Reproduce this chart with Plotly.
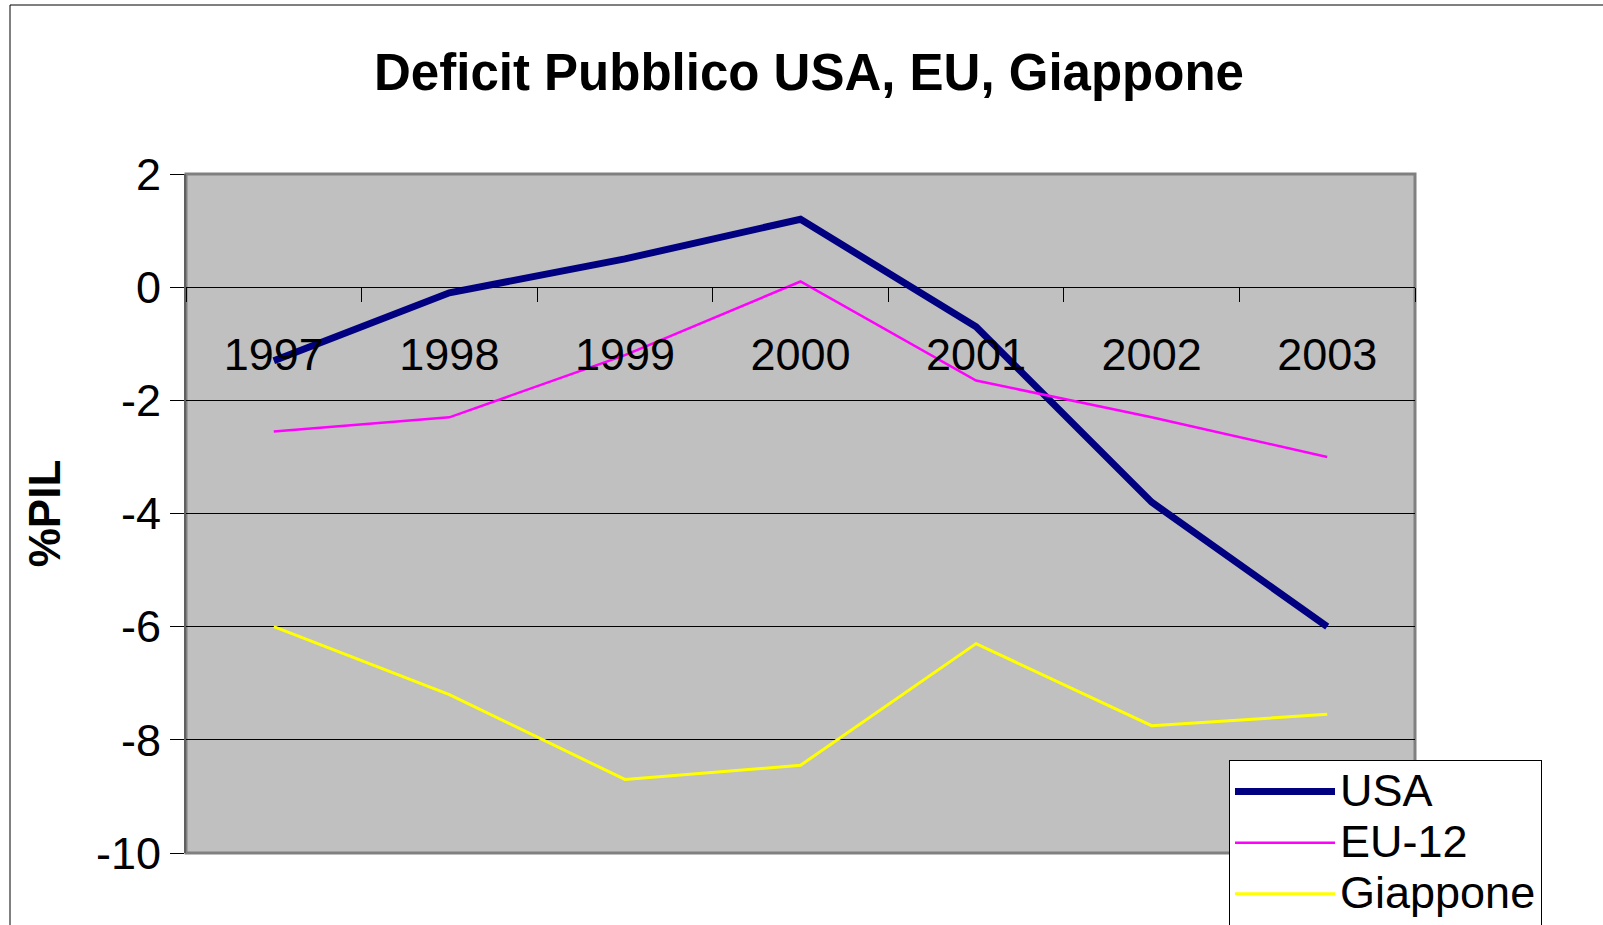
import plotly.graph_objects as go

years = ["1997", "1998", "1999", "2000", "2001", "2002", "2003"]
usa = [-1.3, -0.1, 0.5, 1.2, -0.7, -3.8, -6.0]
eu12 = [-2.55, -2.3, -1.2, 0.1, -1.65, -2.3, -3.0]
giappone = [-6.0, -7.2, -8.7, -8.45, -6.3, -7.75, -7.55]
y_ticks = [2, 0, -2, -4, -6, -8, -10]
y_tick_text = ["2", "0", "-2", "-4", "-6", "-8", "-10"]

FONT = "Arial, Liberation Sans, sans-serif"
BIG = '<span style="font-size:45px">{}</span>'

fig = go.Figure()
fig.add_trace(go.Scatter(x=years, y=usa, name=BIG.format("USA"), mode="lines",
                         line=dict(color="#000080", width=7)))
fig.add_trace(go.Scatter(x=years, y=eu12, name=BIG.format("EU-12"), mode="lines",
                         line=dict(color="#FF00FF", width=2.5)))
fig.add_trace(go.Scatter(x=years, y=giappone, name=BIG.format("Giappone"), mode="lines",
                         line=dict(color="#FFFF00", width=3)))

W, H = 1603, 925
# plot area in reference pixels: left 186, right 1415, top 174, bottom 853
L = 186
T = 174
R = W - 1415
B = H - 853
pw = W - L - R
ph = H - T - B

def px(x):
    return (x - L) / pw

def py(y):
    return (H - B - y) / ph

fig.update_layout(
    width=W, height=H,
    margin=dict(l=L, r=R, t=T, b=B, autoexpand=False),
    paper_bgcolor="white",
    plot_bgcolor="#C0C0C0",
    font=dict(family=FONT, color="black", size=45),
    title=dict(text="<b>Deficit Pubblico USA, EU, Giappone</b>",
               font=dict(size=51, family=FONT, color="black"),
               x=px(809), xref="paper", xanchor="center",
               y=1 - 72 / H, yanchor="middle"),
    xaxis=dict(type="category", categoryorder="array", categoryarray=years,
               range=[-0.5, 6.5], tickson="boundaries", ticks="outside",
               ticklen=14, tickcolor="black", tickwidth=1,
               showline=True, linecolor="black", linewidth=1,
               showgrid=False, zeroline=False,
               anchor="free", position=10 / 12,
               tickfont=dict(size=45), ticklabelstandoff=28),
    yaxis=dict(range=[-10, 2], tickmode="array", tickvals=y_ticks,
               ticktext=y_tick_text, ticks="outside", ticklen=14,
               tickcolor="black", tickwidth=1,
               showline=True, linecolor="#606060", linewidth=2,
               showgrid=True, gridcolor="black", gridwidth=1,
               zeroline=False, tickfont=dict(size=45),
               title=dict(text="<b>%PIL</b>", font=dict(size=44), standoff=22)),
    legend=dict(x=px(1229), y=py(760), xanchor="left", yanchor="top",
                bgcolor="white", bordercolor="black", borderwidth=1,
                font=dict(size=37), tracegroupgap=0, itemwidth=100),
    showlegend=True,
)

# plot-area border
fig.add_shape(type="rect", xref="paper", yref="paper", x0=0, y0=0, x1=1, y1=1,
              line=dict(color="#808080", width=3), layer="between")
# outer chart frame
fig.add_shape(type="rect", xref="paper", yref="paper",
              x0=px(10), y0=py(H + 60), x1=px(W + 60), y1=py(5),
              line=dict(color="black", width=1), layer="above")

fig.write_html("out.html",
               config={"displayModeBar": False},
               post_script="document.body.style.margin='0';document.body.style.overflow='hidden';")
